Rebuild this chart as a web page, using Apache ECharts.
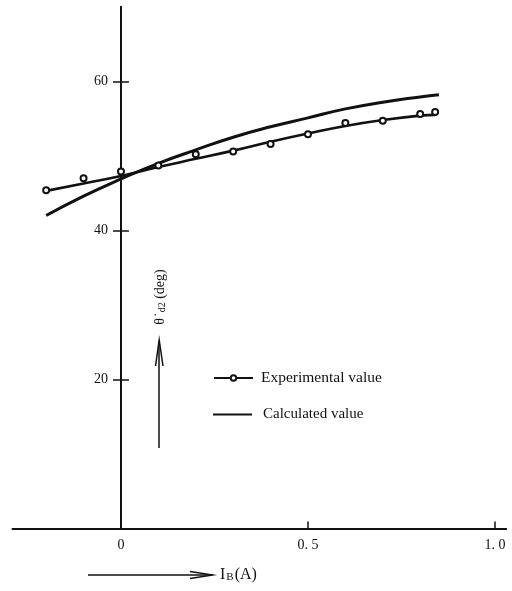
<!DOCTYPE html>
<html>
<head>
<meta charset="utf-8">
<script src="https://cdn.jsdelivr.net/npm/echarts@6/dist/echarts.min.js"></script>
<style>html,body{margin:0;padding:0;background:#fff;}#c{width:512px;height:591px;}</style>
</head>
<body>
<div id="c"></div>
<script>
// measured (experimental) points
var expX = [-0.2, -0.1, 0, 0.1, 0.2, 0.3, 0.4, 0.5, 0.6, 0.7, 0.8, 0.84];
var expY = [45.4, 47.0, 47.9, 48.7, 50.2, 50.6, 51.6, 52.9, 54.4, 54.7, 55.6, 55.9];
// smoothed line through the experimental values
var expFitX = [-0.2, -0.1, 0, 0.1, 0.2, 0.3, 0.4, 0.5, 0.6, 0.7, 0.8, 0.84];
var expFitY = [45.3, 46.3, 47.3, 48.5, 49.6, 50.7, 51.9, 53.0, 54.0, 54.8, 55.4, 55.5];
// calculated curve
var calcX = [-0.2, -0.1, 0, 0.1, 0.2, 0.3, 0.4, 0.5, 0.6, 0.7, 0.8, 0.85];
var calcY = [42.0, 44.6, 46.9, 49.0, 50.8, 52.5, 53.9, 55.1, 56.3, 57.2, 57.9, 58.2];
// ticks
var xTickValues = [0, 0.5, 1.0];
var xTickLabels = ['0', '0. 5', '1. 0'];
var yTickValues = [20, 40, 60];
var yTickLabels = ['20', '40', '60'];
var seriesNames = ['Experimental value', 'Calculated value'];

function zip(a, b) { return a.map(function (v, i) { return [v, b[i]]; }); }

var FONT = '"Liberation Serif", "DejaVu Serif", serif';
var INK = '#111';

var X_MIN = -0.29, X_MAX = 1.03;
var G_LEFT = 12.5, G_WIDTH = 493.7;
// shift the y axis from the grid's left edge to x = 0
var Y_AXIS_OFFSET = -(0 - X_MIN) / (X_MAX - X_MIN) * G_WIDTH;

var chart = echarts.init(document.getElementById('c'), null, {renderer: 'canvas'});
chart.setOption({
  animation: false,
  backgroundColor: '#fff',
  grid: {left: G_LEFT, top: 6.8, width: G_WIDTH, height: 521.7, containLabel: false, outerBoundsMode: 'none'},
  xAxis: {
    type: 'value', min: X_MIN, max: X_MAX,
    splitLine: {show: false},
    axisLine: {show: true, onZero: false, lineStyle: {color: INK, width: 2}},
    axisTick: {show: true, inside: true, length: 7, customValues: [0.5, 1.0], lineStyle: {color: INK, width: 1.5}},
    axisLabel: {
      customValues: xTickValues, margin: 10, color: INK, fontFamily: FONT, fontSize: 14,
      formatter: function (v) { var i = xTickValues.indexOf(v); return i >= 0 ? xTickLabels[i] : ''; }
    }
  },
  yAxis: [{
    type: 'value', min: 0, max: 70, position: 'left', offset: Y_AXIS_OFFSET,
    splitLine: {show: false},
    axisLine: {show: true, onZero: false, lineStyle: {color: INK, width: 2}},
    axisTick: {show: true, inside: false, length: 8, customValues: yTickValues, lineStyle: {color: INK, width: 1.5}},
    axisLabel: {
      customValues: yTickValues, margin: 13, color: INK, fontFamily: FONT, fontSize: 14,
      formatter: function (v) { var i = yTickValues.indexOf(v); return i >= 0 ? yTickLabels[i] : ''; }
    }
  }, {
    type: 'value', min: 0, max: 70, position: 'left', offset: Y_AXIS_OFFSET,
    splitLine: {show: false},
    axisLine: {show: false, onZero: false},
    axisTick: {show: true, inside: true, length: 8, customValues: yTickValues, lineStyle: {color: INK, width: 1.5}},
    axisLabel: {show: false}
  }],
  legend: [{
    data: [{name: seriesNames[0]}],
    left: 213, top: 370, padding: 0, orient: 'vertical',
    itemWidth: 39, itemHeight: 7,
    lineStyle: {opacity: 1, width: 2, color: INK},
    selectedMode: false,
    textStyle: {color: INK, fontFamily: FONT, fontSize: 15.5, padding: [0, 0, 0, 3]}
  }, {
    data: [{name: seriesNames[1], icon: 'rect'}],
    left: 213, top: 407, padding: 0, orient: 'vertical',
    itemWidth: 39, itemHeight: 2,
    selectedMode: false,
    textStyle: {color: INK, fontFamily: FONT, fontSize: 15, padding: [0, 0, 0, 6]}
  }],
  series: [{
    name: seriesNames[0], type: 'line', data: zip(expX, expY),
    symbol: 'emptyCircle', symbolSize: 6, z: 5,
    itemStyle: {color: INK, borderWidth: 1.5},
    lineStyle: {opacity: 0, width: 0}
  }, {
    name: 'expFit', type: 'line', data: zip(expFitX, expFitY),
    symbol: 'none', smooth: 0.5, z: 3,
    lineStyle: {color: INK, width: 2.6}
  }, {
    name: seriesNames[1], type: 'line', data: zip(calcX, calcY),
    symbol: 'none', smooth: 0.5, z: 3,
    itemStyle: {color: INK},
    lineStyle: {color: INK, width: 3}
  }],
  graphic: [
    {type: 'text', x: 160, y: 297, rotation: Math.PI / 2,
     style: {text: '{t|θ}{d|˙}{s|d2}{t| (deg)}', align: 'center', verticalAlign: 'middle', fill: INK,
       rich: {t: {fontFamily: FONT, fontSize: 14, fill: INK},
              d: {fontFamily: FONT, fontSize: 14, fill: INK, padding: [0, 0, 0, 1]},
              s: {fontFamily: FONT, fontSize: 10, fill: INK, verticalAlign: 'bottom', padding: [4, 0, 0, 0]}}}},
    {type: 'line', shape: {x1: 159, y1: 448, x2: 159, y2: 341}, style: {stroke: INK, lineWidth: 1.5}},
    {type: 'polyline', shape: {points: [[155.5, 366], [159.2, 340], [163, 366]]}, style: {stroke: INK, lineWidth: 1.5, fill: null}},
    {type: 'line', shape: {x1: 88, y1: 575, x2: 212, y2: 575}, style: {stroke: INK, lineWidth: 1.5}},
    {type: 'polyline', shape: {points: [[190, 571.5], [213, 575], [190, 578.5]]}, style: {stroke: INK, lineWidth: 1.3, fill: null}},
    {type: 'text', x: 220, y: 575,
     style: {text: '{t|I}{s|B}{t|(A)}', align: 'left', verticalAlign: 'middle', fill: INK,
       rich: {t: {fontFamily: FONT, fontSize: 16, fill: INK}, s: {fontFamily: FONT, fontSize: 11, fill: INK, verticalAlign: 'bottom', padding: [4, 1, 0, 1]}}}}
  ]
});
</script>
</body>
</html>
